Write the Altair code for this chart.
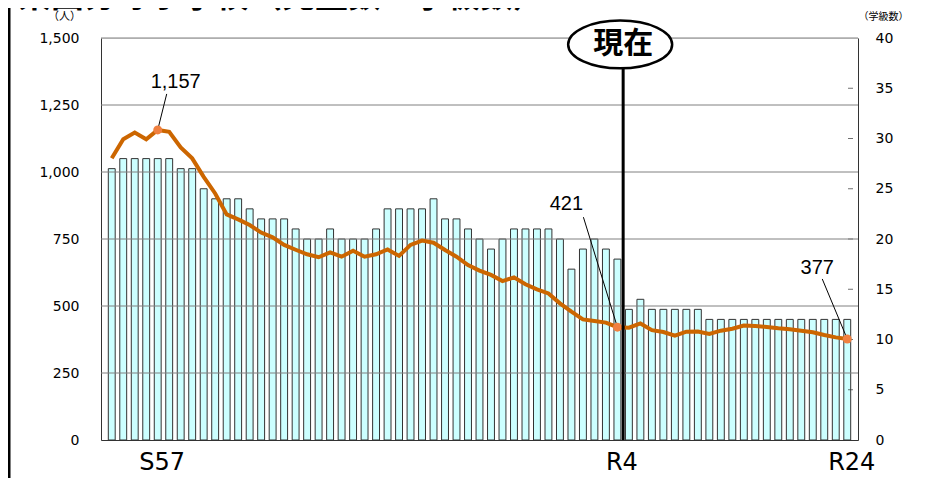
import json
import altair as alt
import pandas as pd

# ---- data ----
years = ([f"S{n}" for n in range(53, 64)] + [f"H{n}" for n in range(1, 31)]
         + [f"R{n}" for n in range(1, 25)])
students = [1051, 1122, 1147, 1122, 1157, 1150, 1092, 1051, 982, 920,
            842, 823, 802, 774, 756, 728, 710, 693, 682, 700,
            684, 706, 684, 693, 711, 687, 728, 744, 736, 709,
            684, 653, 632, 616, 593, 607, 581, 562, 547, 510,
            479, 450, 444, 438, 421, 419, 435, 410, 403, 389,
            404, 405, 396, 408, 415, 427, 425, 422, 417, 413,
            408, 402, 392, 383, 377]
classes = [27, 28, 28, 28, 28, 28, 27, 27, 25, 24,
           24, 24, 23, 22, 22, 22, 21, 20, 20, 21,
           20, 20, 20, 21, 23, 23, 23, 23, 24, 22,
           22, 21, 20, 19, 20, 21, 21, 21, 21, 20,
           17, 19, 20, 19, 18, 13, 14, 13, 13, 13,
           13, 13, 12, 12, 12, 12, 12, 12, 12, 12,
           12, 12, 12, 12, 12]
tick_labels = ["S57", "R4", "R24"]
callout_years = ["S57", "R4", "R24"]
current_year = "R4"
student_ticks = [0, 250, 500, 750, 1000, 1250, 1500]
class_ticks = [0, 5, 10, 15, 20, 25, 30, 35, 40]
title_text = "東国分寺小学校（児童数・学級数）"

df = pd.DataFrame({"i": list(range(len(years))), "year": years,
                   "students": students, "classes": classes})
grid_df = pd.DataFrame({"v": student_ticks[1:]})
ctick_df = pd.DataFrame({"c": class_ticks[1:-1]})
one = pd.DataFrame({"k": [0]})

n = len(years)
xscale = alt.Scale(domain=[-0.5, n - 0.5], nice=False, zero=False)
label_expr = json.dumps(years) + "[datum.value]"
x_axis = alt.Axis(values=[years.index(t) for t in tick_labels], labelExpr=label_expr,
                  title=None, grid=False, ticks=False, tickSize=0, labelPadding=10,
                  labelOffset=4, labelFont="DejaVu Sans", labelFontSize=24, labelColor="black",
                  domainColor="#333333", labelFlush=False)

ys = alt.Scale(domain=[0, 1500], nice=False)
yc = alt.Scale(domain=[0, 40], nice=False)
y_axis = alt.Axis(
    orient="left", values=student_ticks, labelExpr="format(datum.value, ',')", grid=False,
    ticks=False, tickSize=0, labelPadding=22, labelFont="DejaVu Sans", labelFontSize=14,
    labelColor="black", domainColor="#333333", title="（人）", titleAngle=0,
    titleX=-37, titleY=-22, titleFont="Noto Sans CJK JP", titleFontSize=11,
    titleFontWeight="normal", titleAlign="center", titleBaseline="middle")
yc_axis = alt.Axis(
    orient="right", values=class_ticks, grid=False, ticks=False, tickSize=0,
    labelPadding=17, labelFont="DejaVu Sans", labelFontSize=14, labelColor="black",
    domainColor="#333333", title="（学級数）", titleAngle=0, titleX=25, titleY=-22,
    titleFont="Noto Sans CJK JP", titleFontSize=10, titleFontWeight="normal",
    titleAlign="center", titleBaseline="middle")

X = lambda f: alt.X(f, scale=xscale, axis=x_axis)
Y = lambda f: alt.Y(f, scale=ys, axis=y_axis)
YC = lambda f: alt.Y(f, scale=yc, axis=yc_axis)

# ---- class-count (right axis) group ----
bars = alt.Chart(df).transform_calculate(
    x0="datum.i - 0.3", x1="datum.i + 0.3"
).mark_bar(fill="#ccffff", stroke="#333333", strokeWidth=1, orient="vertical").encode(
    x=X("x0:Q"), x2="x1:Q", y=YC("classes:Q"), y2=alt.datum(0))
right_ticks = alt.Chart(ctick_df).mark_tick(
    orient="horizontal", size=5, thickness=1, color="#333333", xOffset=-2.5).encode(
    x=alt.XDatum(n - 0.5, scale=xscale, axis=x_axis), y=YC("c:Q"))
class_group = alt.layer(bars, right_ticks)

# ---- student (left axis) group ----
base = alt.Chart(df)
grid = alt.Chart(grid_df).mark_rule(color="#808080", strokeWidth=1).encode(y=Y("v:Q"))
line = base.mark_line(color="#cc6600", strokeWidth=4).encode(x=X("i:Q"), y=Y("students:Q"))

offsets = {"S57": (9, -36, 18, -48), "R4": (-34, -110, -51, -123), "R24": (-25, -60, -30, -71)}
callout_layers = []
for yr in callout_years:
    rx, ry, tx, ty = offsets[yr]
    sub = base.transform_filter(alt.datum.year == yr)
    callout_layers.append(sub.mark_rule(color="black", strokeWidth=1, x2Offset=rx, y2Offset=ry).encode(
        x=X("i:Q"), x2="i:Q", y=Y("students:Q"), y2="students:Q"))
    callout_layers.append(sub.mark_point(filled=True, color="#f08040", size=80, opacity=1).encode(
        x=X("i:Q"), y=Y("students:Q")))
    callout_layers.append(sub.mark_text(fontSize=20, font="Liberation Sans", color="black",
                                        dx=tx, dy=ty, align="center", baseline="middle").encode(
        x=X("i:Q"), y=Y("students:Q"), text=alt.Text("students:Q", format=",")))

now_x = years.index(current_year) + 0.5
now_y = 1476
XD = alt.XDatum(now_x, scale=xscale, axis=x_axis)
YD = alt.YDatum(now_y, scale=ys, axis=y_axis)
now_rule = alt.Chart(one).mark_rule(color="black", strokeWidth=3).encode(
    x=XD, y=alt.YDatum(0, scale=ys, axis=y_axis), y2=alt.datum(now_y))
ellipse = alt.Chart(one).mark_point(
    shape="M-1,0A1,0.46,0,1,1,1,0A1,0.46,0,1,1,-1,0Z", size=10816,
    filled=True, color="white", fillOpacity=1, stroke="black", strokeWidth=2.5,
    opacity=1, xOffset=-3).encode(x=XD, y=YD)
now_text = alt.Chart(one).mark_text(text="現在", font="Noto Sans CJK JP", fontWeight="bold",
                                    fontSize=30, color="black", baseline="middle", align="center").encode(
    x=XD, y=YD)

# decorations outside the plot (frame edge and clipped heading)
frame = alt.Chart(one).mark_rule(color="black", strokeWidth=3).encode(
    x=alt.value(-92), y=alt.value(-40), y2=alt.value(480))
title = alt.Chart(one).mark_text(text=title_text, font="Noto Sans CJK JP", fontWeight="bold",
                                 fontSize=33, color="black", align="left", baseline="bottom").encode(
    x=alt.value(-83), y=alt.value(-24))

student_group = alt.layer(grid, line, *callout_layers, now_rule, ellipse, now_text, frame, title)
chart = alt.layer(class_group, student_group).resolve_scale(y="independent").properties(
    width=757, height=402,
    autosize=alt.AutoSizeParams(type="none"),
    padding={"left": 93, "top": 30, "right": 75, "bottom": 38},
).configure_view(stroke=None).configure(background="white")

chart.save("out.html", embed_options={"renderer": "svg", "actions": False})
